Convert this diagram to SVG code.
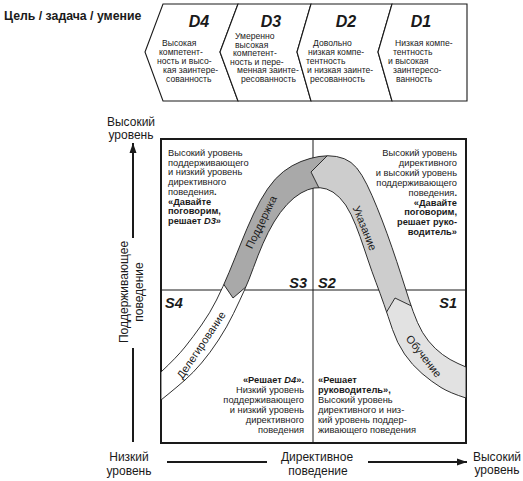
<svg xmlns="http://www.w3.org/2000/svg" width="523" height="481" viewBox="0 0 523 481">
<style>
text{font-family:"Liberation Sans",Arial,"DejaVu Sans",sans-serif;fill:#1a1a1a}
.hd{font-size:12.3px;font-weight:bold}
.d{font-size:16px;font-weight:bold;font-style:italic;text-anchor:middle}
.bd{font-size:8.6px}
.q{font-size:9.3px}
.b{font-weight:bold}
.i{font-style:italic}
.e{text-anchor:end}
.m{text-anchor:middle}
.s{font-size:14.5px;font-weight:bold;font-style:italic}
.ax{font-size:12px;text-anchor:middle}
.bl{font-size:11px;text-anchor:middle}
.chev{fill:#fff;stroke:#1a1a1a;stroke-width:1.1;stroke-linejoin:miter}
.axl{stroke:#1a1a1a;stroke-width:2;fill:none}
.edge{fill:none;stroke:#1a1a1a;stroke-width:0.9}
</style>
<defs>
<marker id="ah" markerUnits="userSpaceOnUse" markerWidth="10" markerHeight="8" refX="10" refY="4" orient="auto">
<path d="M0,0.5 L10,4 L0,7.5 Z" fill="#1a1a1a"/>
</marker>
<clipPath id="bandclip">
<path id="bandshape" d="M161,372 Q177,357 185,347 Q193,337 201.5,325 Q210,313 216.5,300 Q223,287 229,272.5 Q235,258 241,243 Q247,228 253.5,214 Q260,200 267.5,189 Q275,178 283.5,171.5 Q292,165 301,161.5 Q310,158 319,156.5 Q328,155 336.5,156.5 Q345,158 351,162.5 Q357,167 362,175.5 Q367,184 372,195.5 Q377,207 382,220 Q387,233 392,247.5 Q397,262 401,274.5 Q405,287 409,299.5 Q413,312 417.5,322.5 Q422,333 428.5,341 Q435,349 442.5,354.5 Q450,360 458,363.5 L466,367 L466,398 Q450,393 441,387.5 Q432,382 422,373.5 Q412,365 404.5,354 Q397,343 392.5,329.5 Q388,316 384,304.5 Q380,293 376,282.5 Q372,272 368,260 Q364,248 360,236.5 Q356,225 351,214.5 Q346,204 339.5,197.5 Q333,191 326.5,189 Q320,187 314,188 Q308,189 301,193 Q294,197 287,204.5 Q280,212 274,222 Q268,232 263,243.5 Q258,255 253.5,267.5 Q249,280 244.5,290 Q240,300 233.5,313.5 Q227,327 218.5,340 Q210,353 201.5,363 Q193,373 185,380 Q177,387 169,393.5 L161,400 Z"/>
</clipPath>
</defs>

<rect width="523" height="481" fill="#fff"/>

<text class="hd" x="4" y="20">Цель / задача / умение</text>

<g id="D4">
<polygon class="chev" points="163,4 238,4 220,52 238,101 163,101 145,52"/>
<text class="d" x="199" y="27">D4</text>
<text class="bd"><tspan x="162" y="46">Высокая</tspan><tspan x="159" y="55">компетент-</tspan><tspan x="157" y="64">ность и высо-</tspan><tspan x="163" y="73">кая заинтере-</tspan><tspan x="166" y="82">сованность</tspan></text>
</g>
<g id="D3">
<polygon class="chev" points="238,4 311,4 297,52 311,101 238,101 220,52"/>
<text class="d" x="271" y="27">D3</text>
<text class="bd"><tspan x="235" y="39">Умеренно</tspan><tspan x="235" y="47.5">высокая</tspan><tspan x="233" y="56">компетент-</tspan><tspan x="230" y="64.5">ность и пере-</tspan><tspan x="237" y="73">менная заинте-</tspan><tspan x="241" y="81.5">ресованность</tspan></text>
</g>
<g id="D2">
<polygon class="chev" points="311,4 392,4 378,52 392,101 311,101 297,52"/>
<text class="d" x="346" y="27">D2</text>
<text class="bd"><tspan x="313" y="46">Довольно</tspan><tspan x="308" y="55">низкая компе-</tspan><tspan x="306" y="64">тентность</tspan><tspan x="307" y="73">и низкая заинте-</tspan><tspan x="310" y="82">ресованность</tspan></text>
</g>
<g id="D1">
<polygon class="chev" points="392,4 467,4 467,101 392,101 378,52"/>
<text class="d" x="421" y="27">D1</text>
<text class="bd"><tspan x="395" y="46">Низкая компе-</tspan><tspan x="393" y="55">тентность</tspan><tspan x="388" y="64">и высокая</tspan><tspan x="393" y="73">заинтересо-</tspan><tspan x="396" y="82">ванность</tspan></text>
</g>

<g id="grid">
<line x1="313" y1="139" x2="313" y2="443" stroke="#1a1a1a" stroke-width="1"/>
<line x1="161" y1="290" x2="466" y2="290" stroke="#1a1a1a" stroke-width="1"/>
<rect x="161" y="139" width="305" height="304" fill="none" stroke="#1a1a1a" stroke-width="2"/>
</g>

<g id="curve">
<g clip-path="url(#bandclip)">
<polygon fill="#ffffff" points="214,270 233,298 268,268 268,480 100,480 100,250"/>
<polygon fill="#a9a9a9" points="214,270 233,298 268,268 323,196 311,172 335,148 200,100 150,200"/>
<polygon fill="#cdcdcd" points="335,148 311,172 323,196 377,328 395,298 428,314 480,250 400,100"/>
<polygon fill="#e2e2e2" points="377,328 395,298 428,314 480,320 480,480 360,480"/>
<polyline class="edge" points="214,270 233,298 268,268"/>
<polyline class="edge" points="335,148 311,172 323,196"/>
<polyline class="edge" points="377,328 395,298 428,314"/>
</g>
<use href="#bandshape" class="edge"/>
<text class="bl" transform="translate(201,345) rotate(-56)" y="4">Делегирование</text>
<text class="bl" transform="translate(261,222) rotate(-64)" y="4">Поддержка</text>
<text class="bl" transform="translate(365,228) rotate(68)" y="4">Указание</text>
<text class="bl" transform="translate(424,356) rotate(52)" y="4">Обучение</text>
</g>

<g id="S3">
<text class="s e" x="307" y="288">S3</text>
<text class="q"><tspan x="168" y="156">Высокий уровень</tspan><tspan x="168" y="165.7">поддерживающего</tspan><tspan x="168" y="175.4">и низкий уровень</tspan><tspan x="168" y="185.1">директивного</tspan><tspan x="168" y="194.8">поведения<tspan class="b">.</tspan></tspan><tspan class="b" x="168" y="204.5">«Давайте</tspan><tspan class="b" x="168" y="214.2">поговорим,</tspan><tspan class="b" x="168" y="223.9">решает <tspan class="i">D3</tspan>»</tspan></text>
</g>
<g id="S2">
<text class="s" x="318" y="288">S2</text>
<text class="q e"><tspan x="457" y="156">Высокий уровень</tspan><tspan x="457" y="165.9">директивного</tspan><tspan x="457" y="175.8">и высокий уровень</tspan><tspan x="457" y="185.7">поддерживающего</tspan><tspan x="457" y="195.6">поведения<tspan class="b">.</tspan></tspan><tspan class="b" x="457" y="205.5">«Давайте</tspan><tspan class="b" x="457" y="215.4">поговорим,</tspan><tspan class="b" x="457" y="225.3">решает руко-</tspan><tspan class="b" x="457" y="235.2">водитель»</tspan></text>
</g>
<g id="S4">
<text class="s" x="165" y="308">S4</text>
<text class="q e"><tspan class="b" x="304" y="383">«Решает <tspan class="i">D4</tspan>».</tspan><tspan x="304" y="393">Низкий уровень</tspan><tspan x="304" y="403">поддерживающего</tspan><tspan x="304" y="413">и низкий уровень</tspan><tspan x="304" y="423">директивного</tspan><tspan x="304" y="433">поведения</tspan></text>
</g>
<g id="S1">
<text class="s e" x="457" y="308">S1</text>
<text class="q"><tspan class="b" x="318" y="383">«Решает</tspan><tspan class="b" x="318" y="393">руководитель»,</tspan><tspan x="318" y="403">Высокий уровень</tspan><tspan x="318" y="413">директивного и низ-</tspan><tspan x="318" y="423">кий уровень поддер-</tspan><tspan x="318" y="433">живающего поведения</tspan></text>
</g>

<g id="connectors">
<line class="axl" x1="133" y1="442" x2="133" y2="348"/>
<line class="axl" x1="133" y1="238" x2="133" y2="143" marker-end="url(#ah)"/>
<line class="axl" x1="167" y1="462" x2="267" y2="462"/>
<line class="axl" x1="368" y1="462" x2="467" y2="462" marker-end="url(#ah)"/>
</g>

<g id="axis-labels">
<text class="ax"><tspan x="131" y="126">Высокий</tspan><tspan x="131" y="139">уровень</tspan></text>
<text class="ax"><tspan x="129" y="461">Низкий</tspan><tspan x="129" y="475">уровень</tspan></text>
<text class="ax"><tspan x="497" y="461">Высокий</tspan><tspan x="497" y="474">уровень</tspan></text>
<text class="ax"><tspan x="317" y="461">Директивное</tspan><tspan x="318" y="475">поведение</tspan></text>
<text class="ax" transform="translate(132,292) rotate(-90)"><tspan x="0" y="-4">Поддерживающее</tspan><tspan x="0" y="11">поведение</tspan></text>
</g>
</svg>
